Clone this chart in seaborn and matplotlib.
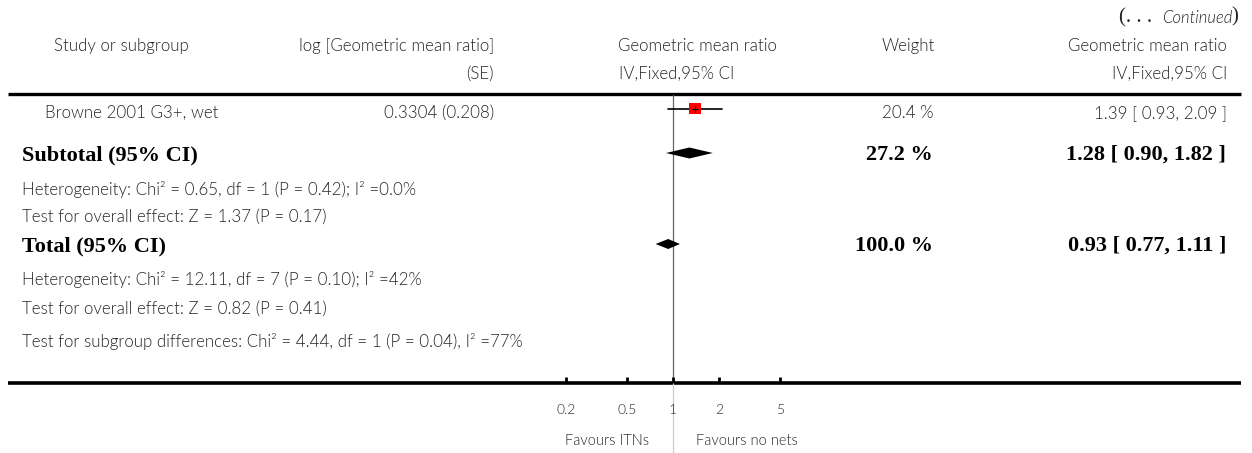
import numpy as np
import matplotlib
matplotlib.use("Agg")
import matplotlib.pyplot as plt
import seaborn as sns

# Study-level estimate
study_names = ["Browne 2001 G3+, wet"]
study_logse = ["0.3304 (0.208)"]
study_gmr = [1.39]
study_lo = [0.93]
study_hi = [2.09]
study_weight = [20.4]

# Pooled estimates: subtotal and overall total
pooled_labels = ["Subtotal (95% CI)", "Total (95% CI)"]
pooled_gmr = [1.28, 0.93]
pooled_lo = [0.90, 0.77]
pooled_hi = [1.82, 1.11]
pooled_weight = [27.2, 100.0]

subtotal_notes = ["Heterogeneity: Chi² = 0.65, df = 1 (P = 0.42); I² =0.0%",
                  "Test for overall effect: Z = 1.37 (P = 0.17)"]
total_notes = ["Heterogeneity: Chi² = 12.11, df = 7 (P = 0.10); I² =42%",
               "Test for overall effect: Z = 0.82 (P = 0.41)",
               "Test for subgroup differences: Chi² = 4.44, df = 1 (P = 0.04), I² =77%"]

tick_values = [0.2, 0.5, 1, 2, 5]
tick_labels = ["0.2", "0.5", "1", "2", "5"]

sns.set_theme(style="white")
plt.rcParams["font.family"] = ["Lato", "DejaVu Sans"]

W, H = 1252, 453
fig = plt.figure(figsize=(W / 100, H / 100), dpi=100)
ax = fig.add_axes([0, 0, 1, 1])

# log axis: value 1 at pixel 673, 153 px per decade
px_per_dec = 153.0
x_one = 673.0
ax.set_xscale("log")
ax.set_xlim(10 ** ((0 - x_one) / px_per_dec), 10 ** ((W - x_one) / px_per_dec))
ax.set_ylim(H, 0)
ax.axis("off")

def px(v):
    return x_one + np.log10(v) * px_per_dec

def val(xp):
    return 10 ** ((xp - x_one) / px_per_dec)

def fx(xp):
    return xp / W

def fy(yp):
    return 1 - yp / H

TXT = "#262626"
light = dict(fontweight=300, color=TXT, fontsize=12.2)
bold = dict(family=["Liberation Serif"], fontweight="bold", color="black", fontsize=16)

# Continuation marker
fig.text(fx(1119), fy(18), "(. . .", ha="left", va="center", fontsize=15,
         family=["Liberation Serif"], color=TXT)
fig.text(fx(1232), fy(18), "Continued", ha="right", va="center", fontsize=12,
         style="italic", fontweight=300, color=TXT)
fig.text(fx(1238), fy(17), ")", ha="right", va="center", fontsize=15,
         family=["Liberation Serif"], color=TXT)

# Column headers
fig.text(fx(121), fy(46), "Study or subgroup", ha="center", va="center", **light)
fig.text(fx(494), fy(46), "log [Geometric mean ratio]", ha="right", va="center", **light)
fig.text(fx(494), fy(74), "(SE)", ha="right", va="center", **light)
fig.text(fx(697), fy(46), "Geometric mean ratio", ha="center", va="center", **light)
fig.text(fx(677), fy(74), "IV,Fixed,95% CI", ha="center", va="center", **light)
fig.text(fx(935), fy(46), "Weight", ha="right", va="center", **light)
fig.text(fx(1227), fy(46), "Geometric mean ratio", ha="right", va="center", **light)
fig.text(fx(1227), fy(74), "IV,Fixed,95% CI", ha="right", va="center", **light)

# Rule lines
ax.plot([val(8), val(1241)], [94, 94], color="black", lw=2.4, solid_capstyle="butt")
ax.plot([val(8), val(1241)], [383, 383], color="black", lw=2.6, solid_capstyle="butt")

# Line of no effect
ax.plot([1, 1], [95, 383], color="#666666", lw=0.9)
ax.plot([1, 1], [383, 453], color="#cccccc", lw=0.9)

# Study row
row_y = [108.5]
for i, name in enumerate(study_names):
    ty = row_y[i] + 4.5
    fig.text(fx(45), fy(ty), name, ha="left", va="center", **light)
    fig.text(fx(494), fy(ty), study_logse[i], ha="right", va="center", **light)
    fig.text(fx(934), fy(ty), f"{study_weight[i]:.1f} %", ha="right", va="center", **light)
    fig.text(fx(1227), fy(ty),
             f"{study_gmr[i]:.2f} [ {study_lo[i]:.2f}, {study_hi[i]:.2f} ]",
             ha="right", va="center", **light)
    ax.plot([study_lo[i], study_hi[i]], [row_y[i], row_y[i]], color="black", lw=1.2)
sns.scatterplot(x=study_gmr, y=row_y, marker="s", s=70, color="red",
                edgecolor="none", ax=ax, zorder=3, legend=False)
ax.plot(study_gmr, row_y, marker="+", color="black", ms=4, mew=0.8, ls="none", zorder=4)

# Pooled diamonds
pooled_y = [153, 244]
pooled_h = [5.5, 5]
for i, lab in enumerate(pooled_labels):
    y = pooled_y[i]
    fig.text(fx(22), fy(y + 2), lab, ha="left", va="center", **bold)
    fig.text(fx(933), fy(y + 2), f"{pooled_weight[i]:.1f} %", ha="right", va="center", **bold)
    fig.text(fx(1226), fy(y + 2),
             f"{pooled_gmr[i]:.2f} [ {pooled_lo[i]:.2f}, {pooled_hi[i]:.2f} ]",
             ha="right", va="center", **bold)
    h = pooled_h[i]
    ax.fill([pooled_lo[i], pooled_gmr[i], pooled_hi[i], pooled_gmr[i]],
            [y, y - h, y, y + h], color="black", lw=0, zorder=3)

for j, note in enumerate(subtotal_notes):
    fig.text(fx(22), fy([189, 217][j]), note, ha="left", va="center", **light)
for j, note in enumerate(total_notes):
    fig.text(fx(22), fy([279, 309, 341][j]), note, ha="left", va="center", **light)

# Axis ticks and labels
for v, lab in zip(tick_values, tick_labels):
    ax.plot([v, v], [377, 383], color="black", lw=2, solid_capstyle="butt")
    fig.text(fx(px(v)), fy(410), lab, ha="center", va="center",
             fontweight=300, color=TXT, fontsize=10)
fig.text(fx(649), fy(441), "Favours ITNs", ha="right", va="center",
         fontweight=300, color=TXT, fontsize=10.5)
fig.text(fx(696), fy(441), "Favours no nets", ha="left", va="center",
         fontweight=300, color=TXT, fontsize=10.5)

fig.savefig("out.png", dpi=100, facecolor="white")
